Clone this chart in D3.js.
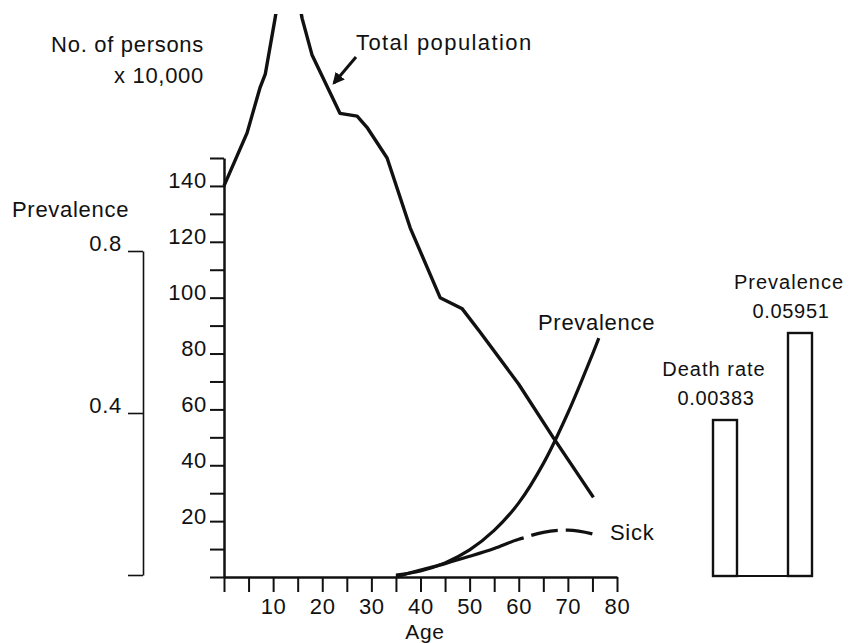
<!DOCTYPE html>
<html>
<head>
<meta charset="utf-8">
<script src="https://cdn.jsdelivr.net/npm/d3@7"></script>
<style>
  body { margin: 0; background: #fff; }
  svg { display: block; }
  text { font-family: "Liberation Sans", Arial, Helvetica, sans-serif; fill: #111; letter-spacing: 0.7px; }
  .axis text { font-size: 22px; }
  .axis path, .axis line { stroke: #111; }
</style>
</head>
<body>
<div id="chart"></div>
<script>
// total population (x 10,000) by age
var popAges   = [0, 4.7, 7.3, 8.4, 10.4, 13, 15.9, 17.9, 23.6, 27.1, 29.1, 33.2, 37.9, 44, 48.5, 52, 60, 67, 75.2];
var popValues = [140, 159, 175, 180, 200, 228, 200, 187, 166, 165, 161, 150, 125, 100, 96, 88, 69, 50, 28.5];

// prevalence by age (left-hand scale)
var prevAges   = [35, 40, 45, 50, 55, 60, 65, 70, 75, 76.3];
var prevValues = [0, 0.01, 0.03, 0.062, 0.11, 0.178, 0.275, 0.4, 0.545, 0.585];

// number of sick (x 10,000); dashed after age 61
var sickAges   = [35, 40, 45, 50, 55, 60, 61, 65, 70, 76];
var sickValues = [0, 2.5, 4.8, 7.4, 10.2, 13.5, 14, 16, 16.8, 15];
var sickDashFrom = 61;

// summary bars
var barNames  = ["Death rate", "Prevalence"];
var barValues = [0.00383, 0.05951];

var ageTicks = d3.range(0, 81, 5);
var personTicks = d3.range(0, 151, 10);
var prevTicks = [0, 0.4, 0.8];

var width = 850, height = 643;

var svg = d3.select("#chart").append("svg")
  .attr("width", width)
  .attr("height", height);

svg.append("rect").attr("width", width).attr("height", height).attr("fill", "#fff");

var x = d3.scaleLinear().domain([0, 80]).range([224, 617]);
var y = d3.scaleLinear().domain([0, 150]).range([577, 158]);
var yPrev = d3.scaleLinear().domain([0, 0.8]).range([575, 251]);

svg.append("clipPath").attr("id", "plotclip")
  .append("rect").attr("x", 0).attr("y", 14).attr("width", width).attr("height", height);

// x axis
var xAxis = svg.append("g")
  .attr("class", "axis")
  .attr("transform", "translate(0," + y(0) + ")")
  .call(d3.axisBottom(x)
    .tickValues(ageTicks)
    .tickSize(15)
    .tickSizeOuter(0)
    .tickPadding(6)
    .tickFormat(function (d) { return (d > 0 && d % 10 === 0) ? d : ""; }));
xAxis.select(".domain").attr("stroke-width", 2.5);
xAxis.selectAll(".tick line").attr("stroke-width", 2);

svg.append("text")
  .attr("x", 425).attr("y", 639)
  .attr("text-anchor", "middle")
  .style("font-size", "21px")
  .text("Age");

// persons axis
var yAxis = svg.append("g")
  .attr("class", "axis")
  .attr("transform", "translate(" + x(0) + ",0)")
  .call(d3.axisLeft(y)
    .tickValues(personTicks)
    .tickSize(14)
    .tickSizeOuter(0)
    .tickPadding(3)
    .tickFormat(function (d) { return (d > 0 && d % 20 === 0) ? d : ""; }));
yAxis.select(".domain").attr("stroke-width", 2.5);
yAxis.selectAll(".tick line").attr("stroke-width", 2);
yAxis.selectAll(".tick text").attr("dy", 2);

svg.append("text").attr("x", 204).attr("y", 52).attr("text-anchor", "end")
  .style("font-size", "22px").text("No. of persons");
svg.append("text").attr("x", 204).attr("y", 83).attr("text-anchor", "end")
  .style("font-size", "22px").text("x 10,000");

// prevalence axis
var pAxis = svg.append("g")
  .attr("class", "axis")
  .attr("transform", "translate(143,0)")
  .call(d3.axisLeft(yPrev)
    .tickValues(prevTicks)
    .tickSize(15)
    .tickSizeOuter(0)
    .tickPadding(6)
    .tickFormat(function (d) { return d > 0 ? d : ""; }));
pAxis.select(".domain").attr("stroke-width", 1.6);
pAxis.selectAll(".tick line").attr("stroke-width", 1.6);
pAxis.selectAll(".tick text").attr("dy", -1);

svg.append("text").attr("x", 12).attr("y", 217)
  .style("font-size", "22px").text("Prevalence");

// total population
var popData = popAges.map(function (a, i) { return { age: a, v: popValues[i] }; });
svg.append("path")
  .datum(popData)
  .attr("clip-path", "url(#plotclip)")
  .attr("fill", "none")
  .attr("stroke", "#111")
  .attr("stroke-width", 3.4)
  .attr("stroke-linejoin", "round")
  .attr("d", d3.line()
    .x(function (d) { return x(d.age); })
    .y(function (d) { return y(d.v); }));

// prevalence curve
var prevData = prevAges.map(function (a, i) { return { age: a, v: prevValues[i] }; });
svg.append("path")
  .datum(prevData)
  .attr("fill", "none")
  .attr("stroke", "#111")
  .attr("stroke-width", 3.2)
  .attr("d", d3.line()
    .x(function (d) { return x(d.age); })
    .y(function (d) { return yPrev(d.v); })
    .curve(d3.curveCatmullRom.alpha(0.5)));

// sick
var sickData = sickAges.map(function (a, i) { return { age: a, v: sickValues[i] }; });
var sickLine = d3.line()
  .x(function (d) { return x(d.age); })
  .y(function (d) { return y(d.v); })
  .curve(d3.curveMonotoneX);
svg.append("path")
  .datum(sickData.filter(function (d) { return d.age <= sickDashFrom; }))
  .attr("fill", "none")
  .attr("stroke", "#111")
  .attr("stroke-width", 3.2)
  .attr("d", sickLine);
svg.append("path")
  .datum(sickData.filter(function (d) { return d.age >= sickDashFrom; }))
  .attr("fill", "none")
  .attr("stroke", "#111")
  .attr("stroke-width", 3.2)
  .attr("stroke-dasharray", "27,8")
  .attr("stroke-dashoffset", 27)
  .attr("d", sickLine);

// curve labels
svg.append("text").attr("x", 356).attr("y", 50)
  .style("font-size", "22px").style("letter-spacing", "1.4px").text("Total population");
svg.append("text").attr("x", 538).attr("y", 330)
  .style("font-size", "22px").text("Prevalence");
svg.append("text").attr("x", 610).attr("y", 540)
  .style("font-size", "22px").text("Sick");

// arrow to total population
svg.append("defs").append("marker")
  .attr("id", "arrowhead")
  .attr("viewBox", "0 0 10 10")
  .attr("refX", 8).attr("refY", 5)
  .attr("markerWidth", 4).attr("markerHeight", 4)
  .attr("orient", "auto")
  .append("path").attr("d", "M0,0L10,5L0,10z").attr("fill", "#111");
svg.append("line")
  .attr("x1", 356).attr("y1", 57)
  .attr("x2", 334).attr("y2", 83)
  .attr("stroke", "#111")
  .attr("stroke-width", 3)
  .attr("marker-end", "url(#arrowhead)");

// summary bars
var xb = d3.scaleBand().domain(barNames).range([713, 812]).paddingInner(0.68);
var yb = d3.scaleLog().domain([2.8e-5, 0.05951]).range([576, 333]);

svg.append("line")
  .attr("x1", xb(barNames[0])).attr("x2", xb(barNames[1]) + xb.bandwidth())
  .attr("y1", yb(2.8e-5)).attr("y2", yb(2.8e-5))
  .attr("stroke", "#111").attr("stroke-width", 2.2);

svg.selectAll(".bar")
  .data(barValues)
  .enter().append("rect")
  .attr("class", "bar")
  .attr("x", function (d, i) { return xb(barNames[i]); })
  .attr("y", function (d) { return yb(d); })
  .attr("width", xb.bandwidth())
  .attr("height", function (d) { return yb(2.8e-5) - yb(d); })
  .attr("fill", "#fff")
  .attr("stroke", "#111")
  .attr("stroke-width", 2.4);

svg.selectAll(".barname")
  .data(barValues)
  .enter().append("text")
  .attr("class", "barname")
  .attr("x", function (d, i) { return xb(barNames[i]) + xb.bandwidth() / 2 - 11; })
  .attr("y", function (d) { return yb(d) - 44; })
  .attr("text-anchor", "middle")
  .style("font-size", "20px")
  .style("letter-spacing", "1px")
  .text(function (d, i) { return barNames[i]; });

svg.selectAll(".barvalue")
  .data(barValues)
  .enter().append("text")
  .attr("class", "barvalue")
  .attr("x", function (d, i) { return xb(barNames[i]) + xb.bandwidth() / 2 - 9; })
  .attr("y", function (d) { return yb(d) - 15; })
  .attr("text-anchor", "middle")
  .style("font-size", "20px")
  .text(function (d) { return d; });
</script>
</body>
</html>
